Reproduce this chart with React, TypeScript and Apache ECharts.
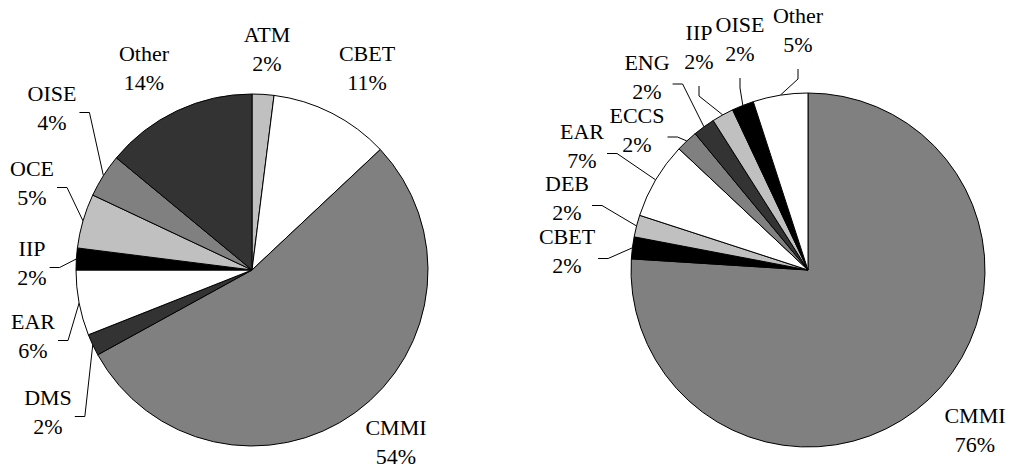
import React, { useEffect, useRef } from 'react';
import * as echarts from 'echarts';

// ---- data ----
const leftCategories = ['ATM', 'CBET', 'CMMI', 'DMS', 'EAR', 'IIP', 'OCE', 'OISE', 'Other'];
const leftValues = [2, 11, 54, 2, 6, 2, 5, 4, 14];
const rightCategories = ['CMMI', 'CBET', 'DEB', 'EAR', 'ECCS', 'ENG', 'IIP', 'OISE', 'Other'];
const rightValues = [76, 2, 2, 7, 2, 2, 2, 2, 5];

// ---- styles ----
const GRAY = '#808080';
const LIGHT = '#c0c0c0';
const DARK = '#333333';
const BLACK = '#000000';
const WHITE = '#ffffff';
const leftColors = [LIGHT, WHITE, GRAY, DARK, WHITE, BLACK, LIGHT, GRAY, DARK];
const rightColors = [GRAY, BLACK, LIGHT, WHITE, GRAY, DARK, LIGHT, BLACK, WHITE];

// label centre positions (px) and leader styles
const leftLabelPos = [[267, 49], [367, 68], [396, 442], [48, 412], [33, 336], [32, 263], [32, 183], [52, 108], [144, 68]];
const leftLeader = ['none', 'none', 'none', 'right', 'right', 'right', 'right', 'right', 'none'];
const rightLabelPos = [[975, 430], [567, 251], [567, 198], [582, 146], [637, 129.5], [647, 76.5], [699, 47], [740, 39], [798, 30]];
const rightLeader = ['none', 'right', 'right', 'right', 'right', 'right', 'bottom', 'bottom', 'bottom'];

const FONT = 'Liberation Serif, Times New Roman, serif';

function makeSeries(
  categories: string[],
  values: number[],
  colors: string[],
  center: [number, number],
  radius: number,
  labelPos: number[][],
  leader: string[],
  leaderDy: number
) {
  const total = values.reduce((a, b) => a + b, 0);
  return {
    type: 'pie',
    center,
    radius,
    startAngle: 90,
    clockwise: true,
    avoidLabelOverlap: false,
    silent: true,
    itemStyle: { borderColor: '#000', borderWidth: 1 },
    label: {
      show: true,
      position: 'outside',
      color: '#000',
      fontFamily: FONT,
      fontSize: 22,
      lineHeight: 29,
      align: 'center',
      formatter: (p: any) => `${p.name}\n${p.value}%`,
    },
    labelLine: {
      show: true,
      smooth: false,
      lineStyle: { color: '#000', width: 1 },
    },
    labelLayout: (params: any) => {
      const i = params.dataIndex;
      const [x, y] = labelPos[i];
      const w = params.labelRect.width;
      const h = params.labelRect.height;
      const res: any = { x, y, align: 'center', verticalAlign: 'middle' };
      if (leader[i] !== 'none') {
        let cum = 0;
        for (let k = 0; k < i; k++) cum += values[k];
        const phi = ((cum + values[i] / 2) / total) * Math.PI * 2;
        const arc = [center[0] + radius * Math.sin(phi), center[1] - radius * Math.cos(phi)];
        let anchor: number[];
        let elbow: number[];
        if (leader[i] === 'right') {
          anchor = [x + w / 2 + 3, y + leaderDy];
          elbow = [anchor[0] + 10, anchor[1]];
        } else {
          anchor = [x, y + h / 2 + 10];
          elbow = [x, anchor[1] + 10];
        }
        res.labelLinePoints = [arc, elbow, anchor];
      }
      return res;
    },
    data: categories.map((name, i) => ({
      name,
      value: values[i],
      itemStyle: { color: colors[i] },
      labelLine: { show: leader[i] !== 'none' },
    })),
  };
}

export default function App() {
  const ref = useRef<HTMLDivElement>(null);
  useEffect(() => {
    if (!ref.current) return;
    const chart = echarts.init(ref.current, undefined, { renderer: 'svg' });
    chart.setOption({
      animation: false,
      backgroundColor: '#ffffff',
      series: [
        makeSeries(leftCategories, leftValues, leftColors, [252, 270], 176, leftLabelPos, leftLeader, 4.5),
        makeSeries(rightCategories, rightValues, rightColors, [808, 270], 177, rightLabelPos, rightLeader, 7.5),
      ],
    });
    return () => chart.dispose();
  }, []);
  return (
    <div
      ref={ref}
      style={{ position: 'absolute', left: 0, top: 0, width: 1013, height: 476, background: '#fff' }}
    />
  );
}
